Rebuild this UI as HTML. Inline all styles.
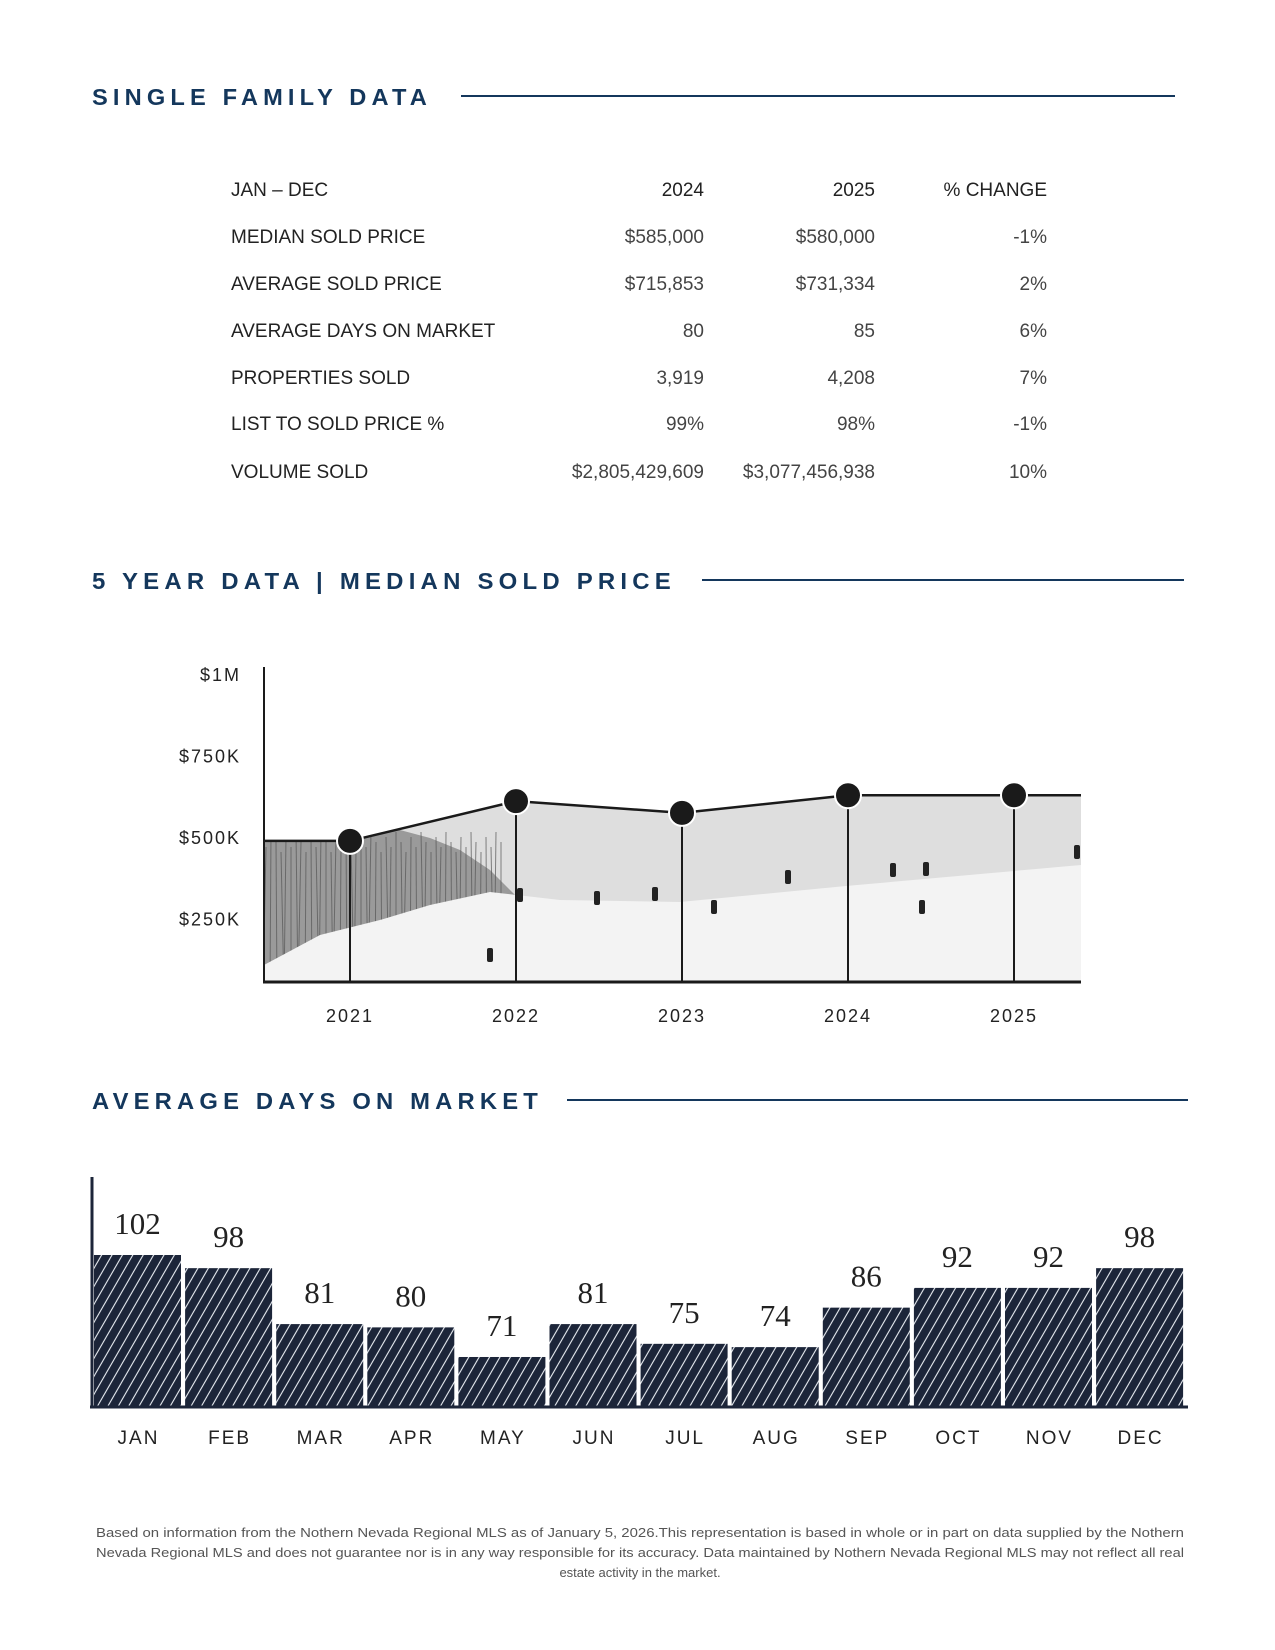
<!DOCTYPE html>
<html><head><meta charset="utf-8"><style>
html,body{margin:0;padding:0;background:#fff}
svg{display:block}
.h{font-family:"Liberation Sans",sans-serif;font-weight:bold;font-size:23px;fill:#14375c}
.t{font-family:"Liberation Sans",sans-serif;font-size:19px;fill:#222}
.tl{font-family:"Liberation Sans",sans-serif;font-size:19px;fill:#444}
.ax{font-family:"Liberation Sans",sans-serif;font-size:18px;fill:#222;letter-spacing:2px}
.bv{font-family:"Liberation Serif",serif;font-size:31px;fill:#222}
.mo{font-family:"Liberation Sans",sans-serif;font-size:19px;fill:#222;letter-spacing:2px}
.ft{font-family:"Liberation Sans",sans-serif;font-size:13px;fill:#555}
</style></head><body>
<svg id="page" width="1275" height="1650" viewBox="0 0 1275 1650" xmlns="http://www.w3.org/2000/svg">
<defs>
<pattern id="hatch" patternUnits="userSpaceOnUse" width="9" height="16" patternTransform="rotate(30)">
<rect width="9" height="16" fill="#1c2539"/>
<line x1="4.5" y1="0" x2="4.5" y2="16" stroke="#e8ecf2" stroke-width="1.1"/>
</pattern>
<clipPath id="areaClip"><polygon id="areaClipPoly" points=""/></clipPath>
</defs>

<g>
<text class="h" x="92" y="105" textLength="340" lengthAdjust="spacingAndGlyphs" letter-spacing="5">SINGLE FAMILY DATA</text>
<line x1="461" y1="96" x2="1175" y2="96" stroke="#14375c" stroke-width="2"/>
</g>

<g>
<text class="t" x="231" y="196">JAN – DEC</text>
<text class="t" x="704" y="196" text-anchor="end">2024</text>
<text class="t" x="875" y="196" text-anchor="end">2025</text>
<text class="t" x="1047" y="196" text-anchor="end">% CHANGE</text>

<text class="t" x="231" y="243">MEDIAN SOLD PRICE</text>
<text class="tl" x="704" y="243" text-anchor="end">$585,000</text>
<text class="tl" x="875" y="243" text-anchor="end">$580,000</text>
<text class="tl" x="1047" y="243" text-anchor="end">-1%</text>

<text class="t" x="231" y="290">AVERAGE SOLD PRICE</text>
<text class="tl" x="704" y="290" text-anchor="end">$715,853</text>
<text class="tl" x="875" y="290" text-anchor="end">$731,334</text>
<text class="tl" x="1047" y="290" text-anchor="end">2%</text>

<text class="t" x="231" y="337">AVERAGE DAYS ON MARKET</text>
<text class="tl" x="704" y="337" text-anchor="end">80</text>
<text class="tl" x="875" y="337" text-anchor="end">85</text>
<text class="tl" x="1047" y="337" text-anchor="end">6%</text>

<text class="t" x="231" y="384">PROPERTIES SOLD</text>
<text class="tl" x="704" y="384" text-anchor="end">3,919</text>
<text class="tl" x="875" y="384" text-anchor="end">4,208</text>
<text class="tl" x="1047" y="384" text-anchor="end">7%</text>

<text class="t" x="231" y="430">LIST TO SOLD PRICE %</text>
<text class="tl" x="704" y="430" text-anchor="end">99%</text>
<text class="tl" x="875" y="430" text-anchor="end">98%</text>
<text class="tl" x="1047" y="430" text-anchor="end">-1%</text>

<text class="t" x="231" y="478">VOLUME SOLD</text>
<text class="tl" x="704" y="478" text-anchor="end">$2,805,429,609</text>
<text class="tl" x="875" y="478" text-anchor="end">$3,077,456,938</text>
<text class="tl" x="1047" y="478" text-anchor="end">10%</text>
</g>

<g>
<text class="h" x="92" y="589" textLength="584" lengthAdjust="spacingAndGlyphs" letter-spacing="5">5 YEAR DATA | MEDIAN SOLD PRICE</text>
<line x1="702" y1="580" x2="1184" y2="580" stroke="#14375c" stroke-width="2"/>
</g>
<g id="lineChart"></g>

<g>
<text class="h" x="92" y="1109" textLength="451" lengthAdjust="spacingAndGlyphs" letter-spacing="5">AVERAGE DAYS ON MARKET</text>
<line x1="567" y1="1100" x2="1188" y2="1100" stroke="#14375c" stroke-width="2"/>
</g>
<g id="barChart"></g>

<g>
<text class="ft" x="640" y="1537" text-anchor="middle" textLength="1088" lengthAdjust="spacingAndGlyphs">Based on information from the Nothern Nevada Regional MLS as of January 5, 2026.This representation is based in whole or in part on data supplied by the Nothern</text>
<text class="ft" x="640" y="1557" text-anchor="middle" textLength="1088" lengthAdjust="spacingAndGlyphs">Nevada Regional MLS and does not guarantee nor is in any way responsible for its accuracy. Data maintained by Nothern Nevada Regional MLS may not reflect all real</text>
<text class="ft" x="640" y="1577" text-anchor="middle">estate activity in the market.</text>
</g>
</svg>
<script>
const NS='http://www.w3.org/2000/svg';
const years=['2021','2022','2023','2024','2025'];
const medianValues=[488000,610000,574000,628000,628000];
const yTickValues=[250000,500000,750000,1000000];
const yTickLabels=['$250K','$500K','$750K','$1M'];
const months=['JAN','FEB','MAR','APR','MAY','JUN','JUL','AUG','SEP','OCT','NOV','DEC'];
const domValues=[102,98,81,80,71,81,75,74,86,92,92,98];

function mk(tag,attrs,parent){const e=document.createElementNS(NS,tag);for(const k in attrs)e.setAttribute(k,attrs[k]);parent.appendChild(e);return e;}

// line chart
const lc=document.getElementById('lineChart');
const L={x0:264,x1:1081,top:667,base:982};
const xYear=i=>350+i*166;
const yVal=v=>1000-v*0.000326;
const pts=medianValues.map((v,i)=>[xYear(i),yVal(v)]);
const areaPts=[[L.x0,pts[0][1]],...pts,[L.x1,pts[pts.length-1][1]],[L.x1,L.base],[L.x0,L.base]];
document.getElementById('areaClipPoly').setAttribute('points',areaPts.map(p=>p.join(',')).join(' '));
const photo=mk('g',{'clip-path':'url(#areaClip)'},lc);


mk('rect',{x:L.x0,y:L.top,width:L.x1-L.x0,height:L.base-L.top,fill:'#dedede'},photo);
mk('polygon',{points:'264,830 400,830 430,838 460,850 490,870 520,900 490,905 450,920 400,945 360,970 300,1000 264,1000',fill:'#9a9a9a'},photo);
const trees=mk('g',{stroke:'#555','stroke-width':1,opacity:0.7},photo);


for(let x=266;x<505;x+=5){
  mk('line',{x1:x,y1:830+((x*37)%25),x2:x+((x*13)%7)-3,y2:990},trees);
}
mk('polygon',{points:'264,965 320,935 380,920 430,905 490,892 560,900 680,902 846,886 1081,865 1081,990 264,990',fill:'#f3f3f3'},photo);
[[520,898],[597,901],[655,897],[714,910],[788,880],[893,873],[926,872],[922,910],[490,958],[1077,855]].forEach(p=>{
  const s=mk('rect',{x:p[0]-3,y:p[1]-10,width:6,height:14,rx:2,fill:'#222'},photo);
  
  
});
const line=mk('polyline',{points:areaPts.slice(0,pts.length+2).map(p=>p.join(',')).join(' '),fill:'none',stroke:'#1a1a1a','stroke-width':2.5},lc);


pts.forEach((p,i)=>{
  const d=mk('line',{x1:p[0],y1:p[1],x2:p[0],y2:L.base,stroke:'#1a1a1a','stroke-width':2},lc);
  
  
  const c=mk('circle',{cx:p[0],cy:p[1],r:13,fill:'#1a1a1a',stroke:'#fff','stroke-width':2},lc);
  
  
  const t=mk('text',{x:p[0],y:1022,'text-anchor':'middle',class:'ax'},lc);
  t.textContent=years[i];
  
  
});
yTickValues.forEach((v,i)=>{
  const t=mk('text',{x:241,y:yVal(v)+7,'text-anchor':'end',class:'ax'},lc);
  t.textContent=yTickLabels[i];
  
  
});
const ya=mk('line',{x1:L.x0,y1:L.top,x2:L.x0,y2:L.base,stroke:'#1a1a1a','stroke-width':2},lc);


const xa=mk('line',{x1:L.x0-1,y1:L.base,x2:L.x1,y2:L.base,stroke:'#1a1a1a','stroke-width':3},lc);



// bar chart
const bc=document.getElementById('barChart');
const B={base:1407,x0:94,step:91.1,w:87};
const yDom=v=>1255-(v-102)*3.29;
domValues.forEach((v,i)=>{
  const x=B.x0+i*B.step, y=yDom(v);
  const r=mk('rect',{x:x,y:y,width:B.w,height:B.base-y,fill:'url(#hatch)'},bc);
  
  
  const t=mk('text',{x:x+B.w/2,y:y-21,'text-anchor':'middle',class:'bv'},bc);
  t.textContent=v;
  
  
  const m=mk('text',{x:x+B.w/2+1,y:1444,'text-anchor':'middle',class:'mo'},bc);
  m.textContent=months[i];
  
  
});
const bya=mk('line',{x1:92,y1:1177,x2:92,y2:B.base,stroke:'#1c2539','stroke-width':3},bc);


const bxa=mk('line',{x1:90,y1:B.base,x2:1188,y2:B.base,stroke:'#1c2539','stroke-width':3},bc);


</script>
</body></html>
